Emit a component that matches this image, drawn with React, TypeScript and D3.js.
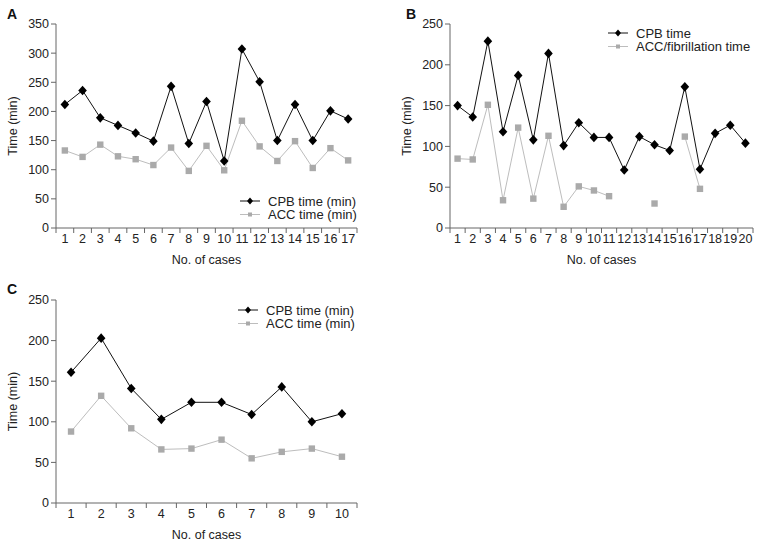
import React from "react";
import * as d3 from "d3";

const casesA = d3.range(1, 18).map(String);
const cpbA = [212, 236, 189, 176, 163, 149, 243, 145, 217, 115, 307, 251, 150, 212, 150, 201, 187];
const accA = [133, 122, 143, 123, 118, 108, 138, 98, 141, 99, 184, 140, 115, 149, 103, 137, 116];

const casesB = d3.range(1, 21).map(String);
const cpbB = [150, 136, 229, 118, 187, 108, 214, 101, 129, 111, 111, 71, 112, 102, 95, 173, 72, 116, 126, 104];
const accB: (number | null)[] = [85, 84, 151, 34, 123, 36, 113, 26, 51, 46, 39, null, null, 30, null, 112, 48, null, null, null];

const casesC = d3.range(1, 11).map(String);
const cpbC = [161, 203, 141, 103, 124, 124, 109, 143, 100, 110];
const accC = [88, 132, 92, 66, 67, 78, 55, 63, 67, 57];

const FONT = "'Liberation Sans', Arial, sans-serif";
const AXIS = "#666";
const GRAY = "#aaaaaa";
const GRAYLINE = "#bdbdbd";
const FS = 12.5;

type PanelProps = {
  letter: string;
  letterX: number;
  letterY: number;
  left: number;
  right: number;
  top: number;
  bottom: number;
  yMax: number;
  cases: string[];
  cpb: (number | null)[];
  acc: (number | null)[];
  legend: { x: number; y: number; labels: [string, string] };
};

function diamond(cx: number, cy: number, w: number, h: number) {
  return `M${cx},${cy - h}L${cx + w},${cy}L${cx},${cy + h}L${cx - w},${cy}Z`;
}

function Panel(p: PanelProps) {
  const x = d3.scaleBand<string>().domain(p.cases).range([p.left, p.right]).padding(0);
  const y = d3.scaleLinear().domain([0, p.yMax]).range([p.bottom, p.top]);
  const cx = (i: number) => (x(p.cases[i]) as number) + x.bandwidth() / 2;
  const line = d3
    .line<number | null>()
    .defined((d) => d != null)
    .x((_, i) => cx(i))
    .y((d) => y(d as number));
  const yTicks = d3.range(0, p.yMax + 1, 50);
  const bounds = p.cases.map((c) => x(c) as number).concat([p.right]);
  return (
    <g fontFamily={FONT}>
      <text x={p.letterX} y={p.letterY} fontSize={14} fontWeight="bold" fill="#111">
        {p.letter}
      </text>
      <line x1={p.left} x2={p.left} y1={p.top} y2={p.bottom} stroke={AXIS} strokeWidth={1} />
      <line x1={p.left} x2={p.right} y1={p.bottom} y2={p.bottom} stroke={AXIS} strokeWidth={1} />
      {yTicks.map((t) => (
        <g key={t}>
          <line x1={p.left - 5} x2={p.left} y1={y(t)} y2={y(t)} stroke={AXIS} />
          <text x={p.left - 7} y={y(t)} dy="0.35em" textAnchor="end" fontSize={FS} fill="#222">
            {t}
          </text>
        </g>
      ))}
      {bounds.map((b, i) => (
        <line key={i} x1={b} x2={b} y1={p.bottom} y2={p.bottom + 5} stroke={AXIS} />
      ))}
      {p.cases.map((c, i) => (
        <text key={c} x={cx(i)} y={p.bottom + 10.5} dy="0.35em" textAnchor="middle" fontSize={FS} fill="#222">
          {c}
        </text>
      ))}
      <text x={(p.left + p.right) / 2} y={p.bottom + 32} dy="0.35em" textAnchor="middle" fontSize={FS} fill="#222">
        No. of cases
      </text>
      <text
        transform={`translate(${p.left - 43},${(p.top + p.bottom) / 2}) rotate(-90)`}
        dy="0.35em"
        textAnchor="middle"
        fontSize={FS}
        fill="#222"
      >
        Time (min)
      </text>
      <path d={line(p.acc) || ""} fill="none" stroke={GRAYLINE} strokeWidth={1} />
      {p.acc.map((v, i) =>
        v == null ? null : (
          <rect key={i} x={cx(i) - 3.2} y={y(v) - 3.2} width={6.4} height={6.4} fill={GRAY} />
        )
      )}
      <path d={line(p.cpb) || ""} fill="none" stroke="#111" strokeWidth={1} />
      {p.cpb.map((v, i) =>
        v == null ? null : <path key={i} d={diamond(cx(i), y(v), 4.3, 4.8)} fill="#000" />
      )}
      <g>
        <line x1={p.legend.x} x2={p.legend.x + 20} y1={p.legend.y} y2={p.legend.y} stroke="#111" />
        <path d={diamond(p.legend.x + 10, p.legend.y, 3, 3.5)} fill="#000" />
        <text x={p.legend.x + 28} y={p.legend.y} dy="0.35em" fontSize={13} fill="#222">
          {p.legend.labels[0]}
        </text>
        <line x1={p.legend.x} x2={p.legend.x + 20} y1={p.legend.y + 13.5} y2={p.legend.y + 13.5} stroke={GRAYLINE} />
        <rect x={p.legend.x + 8} y={p.legend.y + 11.5} width={4} height={4} fill={GRAY} />
        <text x={p.legend.x + 28} y={p.legend.y + 13.5} dy="0.35em" fontSize={13} fill="#222">
          {p.legend.labels[1]}
        </text>
      </g>
    </g>
  );
}

export default function App() {
  return (
    <svg width={761} height={547} style={{ position: "absolute", left: 0, top: 0, background: "#fff" }}>
      <rect width={761} height={547} fill="#fff" />
      <Panel
        letter="A"
        letterX={7}
        letterY={19}
        left={56}
        right={357}
        top={24}
        bottom={228}
        yMax={350}
        cases={casesA}
        cpb={cpbA}
        acc={accA}
        legend={{ x: 240, y: 201, labels: ["CPB time (min)", "ACC time (min)"] }}
      />
      <Panel
        letter="B"
        letterX={406}
        letterY={19}
        left={450}
        right={753}
        top={24}
        bottom={228}
        yMax={250}
        cases={casesB}
        cpb={cpbB}
        acc={accB}
        legend={{ x: 608, y: 33, labels: ["CPB time", "ACC/fibrillation time"] }}
      />
      <Panel
        letter="C"
        letterX={7}
        letterY={294}
        left={56}
        right={357}
        top={300}
        bottom={503}
        yMax={250}
        cases={casesC}
        cpb={cpbC}
        acc={accC}
        legend={{ x: 238, y: 310, labels: ["CPB time (min)", "ACC time (min)"] }}
      />
    </svg>
  );
}
